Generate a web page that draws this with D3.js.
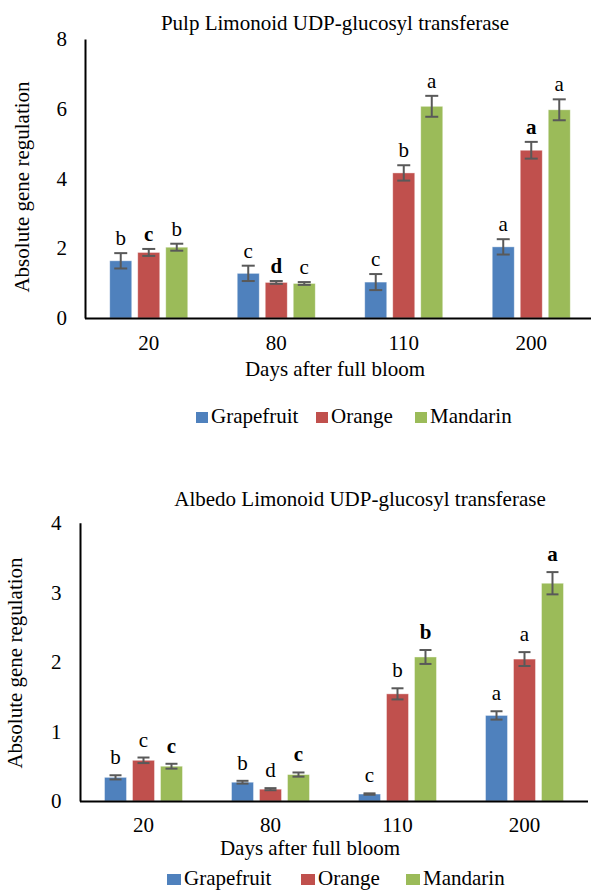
<!DOCTYPE html>
<html>
<head>
<meta charset="utf-8">
<script src="https://cdn.jsdelivr.net/npm/d3@7"></script>
<style>
  html, body { margin: 0; padding: 0; background: #fff; }
  svg text { font-family: "Liberation Serif", "Times New Roman", Times, serif !important; fill: #000; }
</style>
</head>
<body>
<svg id="chart" width="592" height="891"></svg>
<script>
// ---------- data ----------
const categories = ["20", "80", "110", "200"];
const seriesNames = ["Grapefruit", "Orange", "Mandarin"];
const seriesColors = ["#4F81BD", "#C0504D", "#9BBB59"];

// Pulp
const pulpGrapefruit = [1.64, 1.28, 1.03, 2.04];
const pulpOrange     = [1.88, 1.02, 4.16, 4.81];
const pulpMandarin   = [2.03, 0.99, 6.07, 5.97];
const pulpGrapefruitErr = [0.22, 0.22, 0.23, 0.22];
const pulpOrangeErr     = [0.10, 0.04, 0.22, 0.24];
const pulpMandarinErr   = [0.10, 0.04, 0.30, 0.30];
const pulpGrapefruitLetters = ["b", "c", "c", "a"];
const pulpOrangeLetters     = ["c", "d", "b", "a"];
const pulpMandarinLetters   = ["b", "c", "a", "a"];
const pulpGrapefruitBold = [false, false, false, false];
const pulpOrangeBold     = [true, true, false, true];
const pulpMandarinBold   = [false, false, false, false];
const pulpTicks = [0, 2, 4, 6, 8];

// Albedo
const albGrapefruit = [0.34, 0.27, 0.10, 1.23];
const albOrange     = [0.585, 0.17, 1.54, 2.04];
const albMandarin   = [0.50, 0.38, 2.07, 3.13];
const albGrapefruitErr = [0.03, 0.02, 0.01, 0.06];
const albOrangeErr     = [0.04, 0.015, 0.08, 0.10];
const albMandarinErr   = [0.035, 0.03, 0.10, 0.16];
const albGrapefruitLetters = ["b", "b", "c", "a"];
const albOrangeLetters     = ["c", "d", "b", "a"];
const albMandarinLetters   = ["c", "c", "b", "a"];
const albGrapefruitBold = [false, false, false, false];
const albOrangeBold     = [false, false, false, false];
const albMandarinBold   = [true, true, true, true];
const albTicks = [0, 1, 2, 3, 4];

const yLabel = "Absolute gene regulation";
const xLabel = "Days after full bloom";
const pulpTitle = "Pulp Limonoid UDP-glucosyl transferase";
const albTitle = "Albedo Limonoid UDP-glucosyl transferase";

// ---------- drawing ----------
const svg = d3.select("#chart");
const FS = 21;
const FONT = '"Liberation Serif", "Times New Roman", Times, serif';

function drawChart(cfg) {
  const g = svg.append("g");
  const values = cfg.values, errs = cfg.errs, letters = cfg.letters, bold = cfg.bold;

  const x0 = d3.scaleBand().domain(categories)
    .range([cfg.left, cfg.right]).paddingInner(cfg.pad).paddingOuter(cfg.pad / 2);
  const x1 = d3.scaleBand().domain(d3.range(seriesNames.length))
    .range([0, x0.bandwidth()]).paddingInner(0.214).paddingOuter(0);
  const y = d3.scaleLinear().domain([0, d3.max(cfg.ticks)]).range([cfg.bottom, cfg.top]);

  // bars
  seriesNames.forEach((s, si) => {
    const sg = g.append("g");
    sg.selectAll("rect").data(categories).join("rect")
      .attr("x", (c) => x0(c) + x1(si))
      .attr("y", (c, i) => y(values[si][i]))
      .attr("width", x1.bandwidth())
      .attr("height", (c, i) => y(0) - y(values[si][i]))
      .attr("fill", seriesColors[si])
      .attr("stroke", "#ffffff").attr("stroke-opacity", 0.5).attr("stroke-width", 0.8);

    // error bars
    categories.forEach((c, i) => {
      const cx = x0(c) + x1(si) + x1.bandwidth() / 2;
      const hi = y(values[si][i] + errs[si][i]);
      const lo = y(values[si][i] - errs[si][i]);
      const eg = sg.append("g").attr("stroke", "#595959").attr("stroke-width", 2);
      eg.append("line").attr("x1", cx).attr("x2", cx).attr("y1", hi).attr("y2", lo);
      eg.append("line").attr("x1", cx - cfg.cap / 2).attr("x2", cx + cfg.cap / 2).attr("y1", hi).attr("y2", hi);
      eg.append("line").attr("x1", cx - cfg.cap / 2).attr("x2", cx + cfg.cap / 2).attr("y1", lo).attr("y2", lo);
      sg.append("text")
        .attr("x", cx).attr("y", hi - cfg.letterGap)
        .attr("text-anchor", "middle")
        .style("font-family", FONT)
        .style("font-size", FS + "px")
        .style("font-weight", bold[si][i] ? "bold" : "normal")
        .text(letters[si][i]);
    });
  });

  // y axis
  const ya = g.append("g").attr("transform", `translate(${cfg.left},0)`)
    .call(d3.axisLeft(y).tickValues(cfg.ticks).tickSize(0).tickPadding(cfg.yPad).tickFormat(d3.format("d")));
  ya.attr("font-family", FONT).attr("font-size", FS);
  ya.select(".domain").attr("stroke", "#000").attr("stroke-width", 2);
  ya.selectAll("text").style("font-size", FS + "px").style("font-family", FONT).attr("fill", "#000");

  // x axis
  const xa = g.append("g").attr("transform", `translate(0,${cfg.bottom})`)
    .call(d3.axisBottom(x0).tickSize(0).tickPadding(cfg.xPad));
  xa.attr("font-family", FONT).attr("font-size", FS);
  xa.select(".domain").attr("stroke", "#000").attr("stroke-width", 2)
    .attr("d", `M${cfg.left},0.5H${cfg.axisEnd}`);
  xa.selectAll("text").style("font-size", FS + "px").style("font-family", FONT).attr("fill", "#000");

  // titles
  g.append("text").attr("x", cfg.titleX).attr("y", cfg.titleY)
    .attr("text-anchor", "middle").style("font-family", FONT).style("font-size", FS + "px").text(cfg.title);
  g.append("text").attr("x", cfg.xLabelX).attr("y", cfg.xLabelY)
    .attr("text-anchor", "middle").style("font-family", FONT).style("font-size", FS + "px").text(xLabel);
  g.append("text")
    .attr("transform", `translate(${cfg.yLabelX},${cfg.yLabelY}) rotate(-90)`)
    .attr("text-anchor", "middle").style("font-family", FONT).style("font-size", FS + "px").text(yLabel);

  // legend
  const lg = g.append("g");
  seriesNames.forEach((s, si) => {
    lg.append("rect").attr("x", cfg.legendX[si]).attr("y", cfg.legendY - 11)
      .attr("width", cfg.legendSq).attr("height", 11).attr("fill", seriesColors[si]);
    lg.append("text").attr("x", cfg.legendX[si] + cfg.legendSq + 3).attr("y", cfg.legendY)
      .style("font-family", FONT).style("font-size", FS + "px").text(s);
  });
}

drawChart({
  values: [pulpGrapefruit, pulpOrange, pulpMandarin],
  errs: [pulpGrapefruitErr, pulpOrangeErr, pulpMandarinErr],
  letters: [pulpGrapefruitLetters, pulpOrangeLetters, pulpMandarinLetters],
  bold: [pulpGrapefruitBold, pulpOrangeBold, pulpMandarinBold],
  ticks: pulpTicks, title: pulpTitle,
  left: 85, right: 595, axisEnd: 591, pad: 0.388, top: 39, bottom: 318,
  cap: 13, letterGap: 8, yPad: 18, xPad: 17,
  titleX: 335, titleY: 30, xLabelX: 335, xLabelY: 376, yLabelX: 29, yLabelY: 187,
  legendX: [196, 316, 415], legendY: 423, legendSq: 12
});

drawChart({
  values: [albGrapefruit, albOrange, albMandarin],
  errs: [albGrapefruitErr, albOrangeErr, albMandarinErr],
  letters: [albGrapefruitLetters, albOrangeLetters, albMandarinLetters],
  bold: [albGrapefruitBold, albOrangeBold, albMandarinBold],
  ticks: albTicks, title: albTitle,
  left: 80, right: 588, axisEnd: 588, pad: 0.386, top: 522.7, bottom: 801,
  cap: 12, letterGap: 11, yPad: 18.5, xPad: 16,
  titleX: 360, titleY: 506, xLabelX: 310, xLabelY: 855, yLabelX: 22, yLabelY: 663,
  legendX: [167, 301, 406], legendY: 885, legendSq: 14
});
</script>
</body>
</html>
